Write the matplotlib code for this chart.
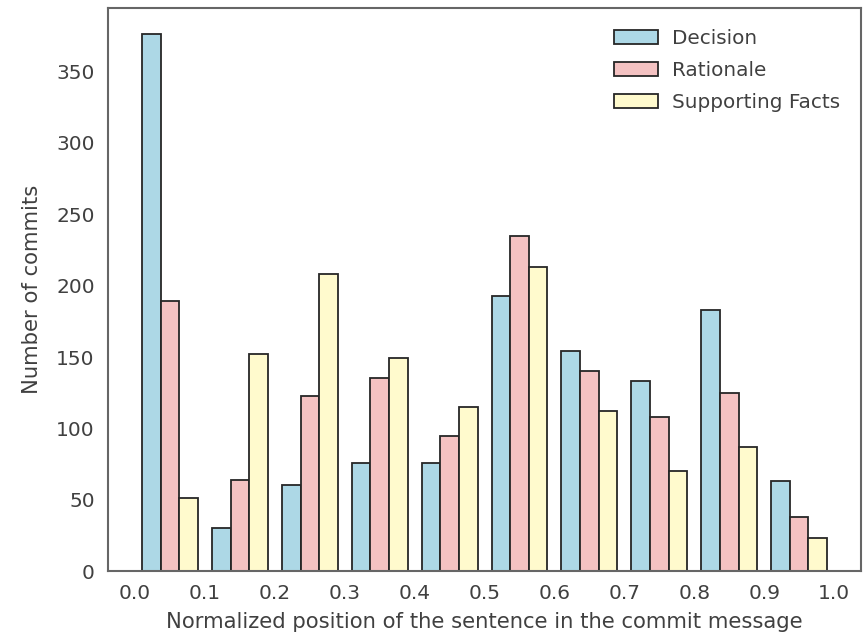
import numpy as np
import matplotlib
matplotlib.use("Agg")
import matplotlib.pyplot as plt
import seaborn as sns

# counts per position bin
bin_edges = np.linspace(0.0, 1.0, 11)
series_names = ["Decision", "Rationale", "Supporting Facts"]
decision = [376, 30, 60, 76, 76, 193, 154, 133, 183, 63]
rationale = [189, 64, 123, 135, 95, 235, 140, 108, 125, 38]
supporting = [51, 152, 208, 149, 115, 213, 112, 70, 87, 23]
colors = ["#ADD8E6", "#F4C2C2", "#FFFACD"]

sns.set_style("white")
plt.rcParams["font.family"] = ["DejaVu Sans"]

centers = (bin_edges[:-1] + bin_edges[1:]) / 2

fig = plt.figure(figsize=(8.63, 6.36), dpi=100)
ax = fig.add_axes([0.125, 0.102, 0.873, 0.886])

ax.hist([centers] * 3, bins=bin_edges,
        weights=[decision, rationale, supporting],
        label=series_names, color=colors,
        edgecolor=".15", linewidth=1.3)

ax.set_xticks(np.round(np.arange(0, 1.01, 0.1), 1))
ax.tick_params(labelsize=14.5, colors=".25", pad=6)
ax.set_xlabel("Normalized position of the sentence in the commit message",
              fontsize=15.2, color=".25", labelpad=6)
ax.set_ylabel("Number of commits", fontsize=15.2, color=".25", labelpad=10)
for s in ax.spines.values():
    s.set_color(".4")
    s.set_linewidth(1.5)

ax.legend(loc="upper right", frameon=False, fontsize=14.4,
          labelcolor=".25", handlelength=2.2, borderaxespad=0.65,
          labelspacing=0.65, handletextpad=0.7)

fig.savefig("out.png", dpi=100)
